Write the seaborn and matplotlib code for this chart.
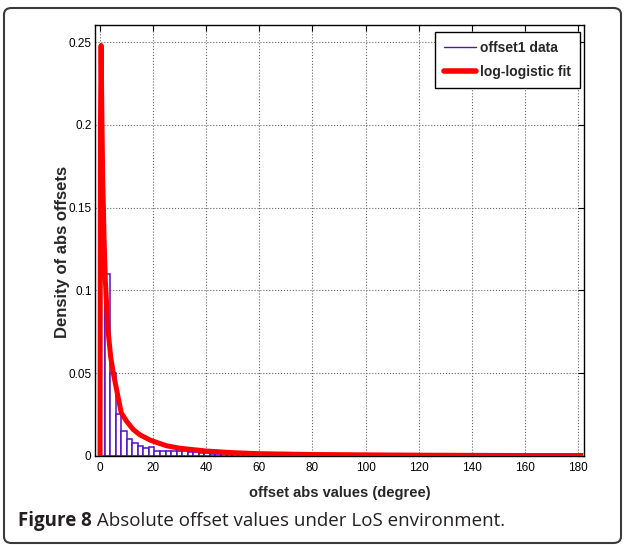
import numpy as np
import pandas as pd
import matplotlib
matplotlib.use("Agg")
import matplotlib.pyplot as plt
from matplotlib.lines import Line2D
from matplotlib.patches import FancyBboxPatch
import seaborn as sns

# ---------------- data ----------------
bin_start = -0.4
bin_width = 2.09
hist_density = [
    0.150, 0.110, 0.050, 0.0254, 0.0151, 0.0101, 0.0077, 0.0062, 0.0050, 0.0056,
    0.0033, 0.0033, 0.0030, 0.0030, 0.0028, 0.0028, 0.0025, 0.0022, 0.0020, 0.0018,
    0.0015, 0.0013, 0.0012, 0.0022, 0.0012, 0.0010, 0.0020, 0.0012, 0.0008, 0.0008,
    0.0015, 0.0010, 0.0006, 0.0005, 0.0005, 0.0004, 0.0004, 0.0003, 0.0003, 0.0003,
    0.0003, 0.0002, 0.0002, 0.0002, 0.0002, 0.0002, 0.0002, 0.0010, 0.0002, 0.0002,
    0.0002, 0.0002, 0.0002, 0.0002, 0.0002, 0.0002, 0.0002, 0.0010, 0.0002, 0.0002,
    0.0002, 0.0002, 0.0012, 0.0012, 0.0012, 0.0012, 0.0010, 0.0002, 0.0008, 0.0002,
    0.0002, 0.0002, 0.0002, 0.0002, 0.0002, 0.0002, 0.0008, 0.0002, 0.0002, 0.0008,
    0.0008, 0.0008, 0.0008, 0.0002, 0.0002, 0.0002,
]
fit_x = [0, 0.15, 0.4, 0.7, 1.0, 1.5, 2.0, 3.0, 4.0, 5.0, 6.0, 8.0, 10, 12.5, 15,
         19, 25, 30, 40, 50, 60, 80, 100, 120, 140, 160, 182]
fit_y = [0, 0.200, 0.248, 0.205, 0.168, 0.132, 0.106, 0.076, 0.060, 0.050, 0.042,
         0.026, 0.021, 0.016, 0.0128, 0.0095, 0.0062, 0.0047, 0.0030, 0.0020, 0.0014,
         0.0009, 0.0007, 0.0005, 0.0004, 0.0003, 0.0003]
x_ticks = [0, 20, 40, 60, 80, 100, 120, 140, 160, 180]
y_ticks = [0, 0.05, 0.1, 0.15, 0.2, 0.25]
y_tick_labels = ["0", "0.05", "0.1", "0.15", "0.2", "0.25"]
legend_labels = ["offset1 data", "log-logistic fit"]
x_label = "offset abs values (degree)"
y_label = "Density of abs offsets"
caption_bold = "Figure 8"
caption_rest = " Absolute offset values under LoS environment."

# ---------------- style ----------------
sns.set_style("white")
sans = ["Liberation Sans", "DejaVu Sans"]
plt.rcParams["font.family"] = sans

W, H = 624, 545
fig = plt.figure(figsize=(W / 100, H / 100), dpi=100)
ax_l, ax_r, ax_t, ax_b = 95, 584, 25, 456
ax = fig.add_axes([ax_l / W, 1 - ax_b / H, (ax_r - ax_l) / W, (ax_b - ax_t) / H])

purple = "#5210c8"
n_bins = len(hist_density)
edges = [bin_start + bin_width * i for i in range(n_bins + 1)]
centers = [(edges[i] + edges[i + 1]) / 2 for i in range(n_bins)]
hist_df = pd.DataFrame({"offset": centers, "density": hist_density})

sns.histplot(data=hist_df, x="offset", weights="density", bins=edges,
             stat="count", fill=True, color="white", edgecolor=purple,
             linewidth=1.1, alpha=1, ax=ax, zorder=2)
fit_df = pd.DataFrame({"x": fit_x, "y": fit_y})
sns.lineplot(data=fit_df, x="x", y="y", color="red", linewidth=3.6, ax=ax,
             sort=False, zorder=3, solid_capstyle="butt")

ax.set_xlim(-1.9, 182.3)
ax.set_ylim(0, 0.2604)
ax.set_xticks(x_ticks)
ax.set_xticklabels([str(t) for t in x_ticks])
ax.set_yticks(y_ticks)
ax.set_yticklabels(y_tick_labels)
ax.tick_params(direction="in", length=4, width=0.8, top=True, right=True,
               labelsize=8.5, pad=4, colors="black")
ax.tick_params(axis="y", pad=2.5)
ax.set_axisbelow(True)
ax.grid(True, linestyle=":", color="#666666", linewidth=0.8)
for s in ax.spines.values():
    s.set_color("black")
    s.set_linewidth(1.0)

ax.set_xlabel(x_label, fontsize=10.5, fontweight="bold", labelpad=9)
ax.set_ylabel(y_label, fontsize=12, fontweight="bold")
ax.yaxis.set_label_coords((70 - ax_l) / (ax_r - ax_l), (ax_b - 252) / (ax_b - ax_t))

handles = [Line2D([], [], color=purple, linewidth=1.0),
           Line2D([], [], color="red", linewidth=4.0)]
leg = ax.legend(handles, legend_labels, loc="upper right",
                bbox_to_anchor=(0.992, 0.984), borderaxespad=0,
                prop={"weight": "bold", "size": 10, "family": sans},
                frameon=True, fancybox=False, framealpha=1, edgecolor="black",
                handlelength=2.3, handletextpad=0.3, borderpad=0.65,
                labelspacing=0.7)
leg.get_frame().set_linewidth(1.0)
leg.set_zorder(5)

# outer rounded frame
frame = FancyBboxPatch((4 / W, 1 - 543 / H), (621 - 4) / W, (543 - 8) / H,
                       boxstyle="round,pad=0,rounding_size=0.012",
                       transform=fig.transFigure, fill=False,
                       edgecolor="#3a3a3a", linewidth=1.5)
fig.patches.append(frame)

# caption
cap_font = ["Open Sans", "DejaVu Sans"]
t1 = fig.text(18 / W, 1 - 521 / H, caption_bold, fontsize=13.5, fontweight="bold",
              family=cap_font, color="#231f20", va="center", ha="left")
fig.canvas.draw()
bb = t1.get_window_extent()
fig.text(bb.x1 / W, 1 - 521 / H, caption_rest, fontsize=13.5, family=cap_font,
         color="#231f20", va="center", ha="left")

fig.savefig("out.png", dpi=100)
